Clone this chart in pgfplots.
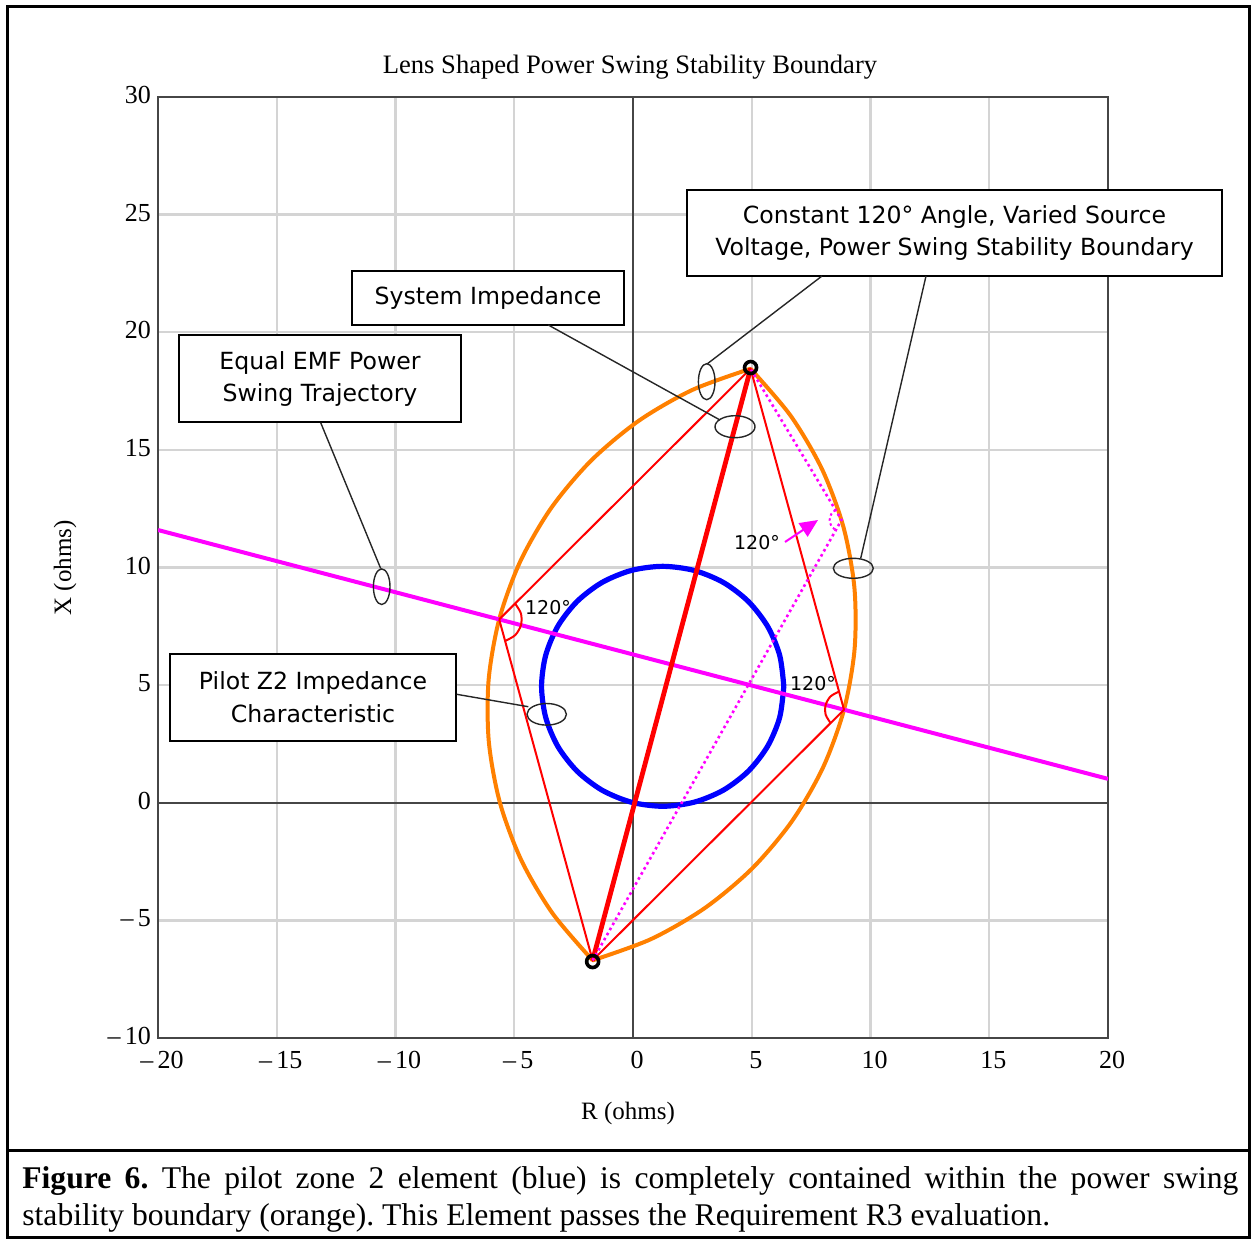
\documentclass[border=0pt]{standalone}
\usepackage{pgfplots}
\pgfplotsset{compat=1.18}
\usepackage{fontspec}
\setmainfont{Liberation Serif}
\newfontfamily\boxfont{DejaVu Sans}
\usetikzlibrary{arrows.meta}
\definecolor{lensorange}{RGB}{255,128,0}
\definecolor{gridgray}{RGB}{212,212,212}
\definecolor{axgray}{RGB}{70,70,70}
\definecolor{mag}{RGB}{255,0,255}
\begin{document}
\frenchspacing
\begin{tikzpicture}
\begin{axis}[
  at={(79pt,100.5pt)}, anchor=south west,
  scale only axis, width=475pt, height=470.5pt,
  xmin=-20, xmax=20, ymin=-10, ymax=30,
  xtick={-20,-15,...,20}, ytick={-10,-5,...,30},
  xticklabels={–\,20,–\,15,–\,10,–\,5,0,5,10,15,20},
  yticklabels={–\,10,–\,5,0,5,10,15,20,25,30},
  major tick length=0pt,
  grid=major, grid style={gridgray, line width=1.2pt},
  axis line style={axgray, line width=1pt},
  tick label style={font=\fontsize{13}{13}\selectfont},
  xticklabel style={yshift=-3pt, xshift=2pt},
  yticklabel style={yshift=1pt},
]
% zero lines
\addplot[axgray, line width=1pt, forget plot] coordinates {(0,-10) (0,30)};
\addplot[axgray, line width=1pt, forget plot] coordinates {(-20,0) (20,0)};
% end markers
\addplot[only marks, mark=o, mark size=3pt, black, mark options={line width=1.8pt}] coordinates {(-1.7,-6.75) (4.95,18.5)};
% lens shaped boundary: left arc (B to A) and right arc (B to A)
\addplot[lensorange, line width=2pt, smooth] coordinates {
(4.951,18.449) (2.493,17.546) (0.231,16.229) (-1.769,14.540) (-3.446,12.528)
(-4.748,10.256) (-5.634,7.794) (-6.080,5.214) (-6.071,2.596) (-5.608,0.020)
(-4.705,-2.438) (-3.388,-4.700) (-1.699,-6.700)};
\addplot[lensorange, line width=2pt, smooth] coordinates {
(4.949,18.450) (6.638,16.450) (7.955,14.188) (8.858,11.730) (9.321,9.154)
(9.330,6.536) (8.884,3.956) (7.998,1.494) (6.696,-0.778) (5.019,-2.790)
(3.019,-4.479) (0.757,-5.796) (-1.701,-6.699)};
% pilot Z2 mho circle
\addplot[blue, line width=2.6pt, smooth] coordinates {
(6.350,4.950) (6.176,6.270) (5.667,7.500) (4.856,8.556) (3.800,9.367) (2.570,9.876)
(1.250,10.050) (-0.070,9.876) (-1.300,9.367) (-2.356,8.556) (-3.167,7.500) (-3.676,6.270)
(-3.850,4.950) (-3.676,3.630) (-3.167,2.400) (-2.356,1.344) (-1.300,0.533) (-0.070,0.024)
(1.250,-0.150) (2.570,0.024) (3.800,0.533) (4.856,1.344) (5.667,2.400) (6.176,3.630)
(6.350,4.950)};
% equal EMF trajectory
\addplot[mag, line width=2pt] coordinates {(-20,11.593) (20,1.016)};
% 120 degree quadrilateral
\addplot[red, line width=1pt] coordinates {(-5.634,7.794) (4.95,18.45) (8.884,3.956) (-1.7,-6.7) (-5.634,7.794)};
% system impedance
\addplot[red, line width=2.4pt] coordinates {(-1.7,-6.7) (4.95,18.45)};
% dotted construction
\addplot[mag, line width=1.3pt, dash pattern=on 1.3pt off 1.6pt] coordinates {(-1.7,-6.7) (8.78,12.02) (4.95,18.45)};
\addplot[mag, line width=1pt, dash pattern=on 1.2pt off 1.4pt, smooth] coordinates {(8.524,12.450) (8.344,12.264) (8.280,12.013) (8.351,11.764) (8.536,11.584)};
% angle arcs
\addplot[red, line width=1pt, smooth] coordinates {(-4.965,8.468) (-4.717,8.043) (-4.716,7.551) (-4.960,7.125) (-5.385,6.877)};
\addplot[red, line width=1pt, smooth] coordinates {(8.674,4.728) (8.316,4.520) (8.111,4.160) (8.112,3.746) (8.320,3.388)};
\end{axis}

\begin{scope}[shift={(0pt,619.5pt)}, x=0.5pt, y=-0.5pt]
% frame
\draw[line width=1.5pt] (7,7) rectangle (1249.5,1237.5);
\draw[line width=1.5pt] (7,1150) -- (1249.5,1150);
% titles
\node[font=\fontsize{13.3}{14}\selectfont] at (630,67) {Lens Shaped Power Swing Stability Boundary};
\node[font=\fontsize{12.5}{14}\selectfont] at (628,1113) {R (ohms)};
\node[font=\fontsize{12.5}{14}\selectfont, rotate=90] at (65,568) {X (ohms)};
% callout boxes
\begin{scope}[line width=0.8pt]
\draw[fill=white] (687,190) rectangle (1222,276);
\node[font=\boxfont\fontsize{11.8}{16}\selectfont, align=center] at (954.5,233) {Constant 120° Angle, Varied Source\\Voltage, Power Swing Stability Boundary};
\draw[fill=white] (352,271) rectangle (624,325);
\node[font=\boxfont\fontsize{11.8}{16}\selectfont] at (488,298) {System Impedance};
\draw[fill=white] (179,335) rectangle (461,422);
\node[font=\boxfont\fontsize{11.8}{16}\selectfont, align=center] at (320,378.5) {Equal EMF Power\\Swing Trajectory};
\draw[fill=white] (170,654) rectangle (456,741);
\node[font=\boxfont\fontsize{11.8}{16.5}\selectfont, align=center] at (313,697.5) {Pilot Z2 Impedance\\Characteristic};
\end{scope}
% leaders and ellipses
\begin{scope}[line width=0.7pt, black!85]
\draw (320.7,422.7) -- (380.7,568.5);
\draw (381.7,586.7) ellipse [x radius=8.3, y radius=17.8];
\draw (548.3,325) -- (720,420);
\draw (735,426.7) ellipse [x radius=20, y radius=11];
\draw (822,276) -- (707.3,363.8);
\draw (706.7,381.7) ellipse [x radius=8.3, y radius=18];
\draw (926,276) -- (860.7,558.3);
\draw (853.3,568.3) ellipse [x radius=20, y radius=10];
\draw (456.7,694.3) -- (528.3,706.7);
\draw (546.7,714.3) ellipse [x radius=19.7, y radius=10.8];
\end{scope}
% angle labels and arrow
\node[font=\boxfont\fontsize{9.5}{10}\selectfont] at (548,608) {120°};
\node[font=\boxfont\fontsize{9.5}{10}\selectfont] at (813,684) {120°};
\node[font=\boxfont\fontsize{9.5}{10}\selectfont] at (757,543) {120°};
\draw[mag, line width=1pt, -{Triangle[length=9pt,width=8pt]}] (785,542) -- (818,520);
% caption
\node[anchor=north west, inner sep=0pt, text width=608pt, align=justify,
      font=\fontsize{15.8}{18.5}\selectfont] at (22,1166)
  {\textbf{Figure 6.} The pilot zone 2 element (blue) is completely contained within the power swing\linebreak
   stability boundary (orange). This Element passes the Requirement R3 evaluation.};
\pgfresetboundingbox
\path (0,0) rectangle (1251,1239);
\end{scope}
\end{tikzpicture}
\end{document}
